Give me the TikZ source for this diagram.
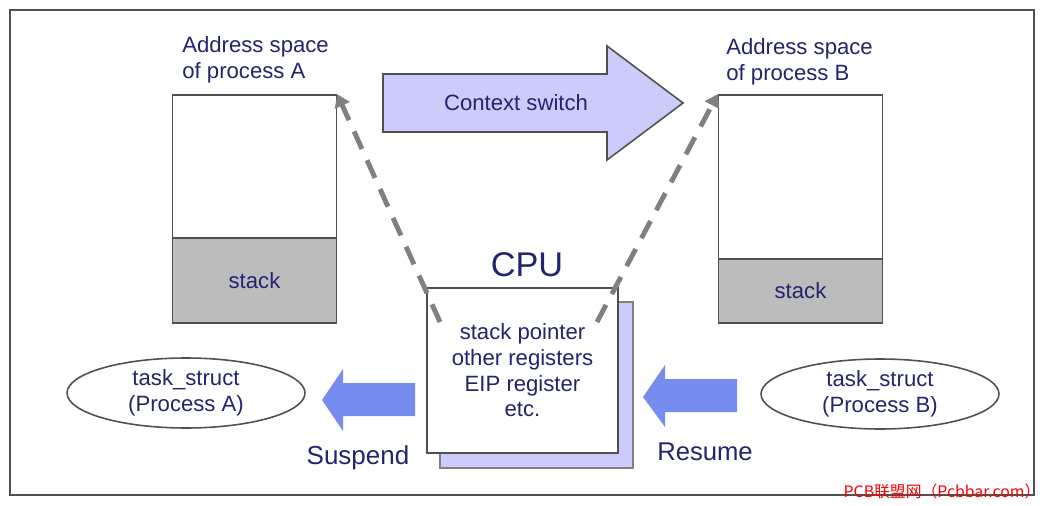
\documentclass[tikz,border=0pt]{standalone}
\usepackage{fontspec}
\setmainfont{Liberation Sans}
\newfontfamily\cjkfont{Noto Sans CJK SC}
\usetikzlibrary{arrows.meta,shapes.geometric}
\definecolor{labelblue}{RGB}{35,35,110}
\definecolor{edgegray}{RGB}{80,80,80}
\definecolor{stackgray}{RGB}{188,188,188}
\definecolor{dashgray}{RGB}{128,128,128}
\definecolor{lavender}{RGB}{204,204,250}
\definecolor{moveblue}{RGB}{118,140,238}
\begin{document}
\begin{tikzpicture}[x=0.02cm, y=-0.02cm, >={Triangle[length=7pt, width=9pt]},
    every node/.style={text=labelblue, inner sep=0pt, font=\fontsize{12.6}{14.6}\selectfont},
    memory/.style={draw=edgegray, line width=0.9pt, fill=white, minimum width=3.28cm},
    stackbox/.style={memory, fill=stackgray},
    task/.style={ellipse, draw=edgegray, line width=0.9pt, minimum width=4.76cm, minimum height=1.4cm, align=center},
    move/.style={fill=moveblue, draw=none},
    link/.style={->, dashgray, line width=2.8pt, dash pattern=on 11pt off 7pt}]
    \useasboundingbox (0,0) rectangle (1047,506);
    \draw[edgegray, line width=0.9pt] (10,10) rectangle (1034,495);

    % Address spaces
    \node (spaceA) [memory, minimum height=2.86cm] at (254.5,166.5) {};
    \node (stackA) [stackbox, minimum height=1.7cm] at (254.5,280.5) {stack};
    \node (titleA) [anchor=west, align=left] at (182,60) {Address space\\of process A};

    \node (spaceB) [memory, minimum height=3.28cm] at (800.5,177) {};
    \node (stackB) [stackbox, minimum height=1.28cm] at (800.5,291) {stack};
    \node (titleB) [anchor=west, align=left] at (726,62) {Address space\\of process B};

    % Context switch arrow
    \draw[fill=lavender, draw=edgegray, line width=0.9pt] (383,74) -- (607,74) -- (607,46)
        -- (683,103) -- (607,160) -- (607,132) -- (383,132) -- cycle;
    \node (switch) at (516,103) {Context switch};

    % CPU
    \node (cpuback) [draw=dashgray, line width=0.9pt, fill=lavender, minimum width=3.86cm, minimum height=3.32cm] at (536.5,385) {};
    \node (cpu) [draw=edgegray, line width=0.9pt, fill=white, minimum width=3.82cm, minimum height=3.3cm, align=center] at (522.5,370.5)
        {stack pointer\\other registers\\EIP register\\etc.};
    \node (cputitle) [font=\fontsize{19.5}{22}\selectfont] at (527,265) {CPU};

    % Dashed links from CPU to the address spaces
    \coordinate (fromA) at (440,322);
    \coordinate (fromB) at (597,322);
    \draw[link] (fromA) -- (spaceA.north east);
    \draw[link] (fromB) -- (spaceB.north west);

    % Task structs
    \node (taskA) [task] at (186,393) {task\_struct\\(Process A)};
    \node (taskB) [task] at (880,394) {task\_struct\\(Process B)};

    % Suspend and resume arrows
    \draw[move] (322,400) -- (343,369) -- (343,383) -- (415,383) -- (415,416) -- (343,416) -- (343,431) -- cycle;
    \draw[move] (643,397) -- (665,365) -- (665,379) -- (737,379) -- (737,412) -- (665,412) -- (665,427) -- cycle;
    \node (suspend) [font=\fontsize{14.8}{17}\selectfont] at (358,458) {Suspend};
    \node (resume) [font=\fontsize{14.6}{17}\selectfont] at (705,452) {Resume};

    \node (mark) [text=red, font=\cjkfont\fontsize{9}{11}\selectfont] at (942,491) {PCB联盟网（Pcbbar.com）};
\end{tikzpicture}
\end{document}
